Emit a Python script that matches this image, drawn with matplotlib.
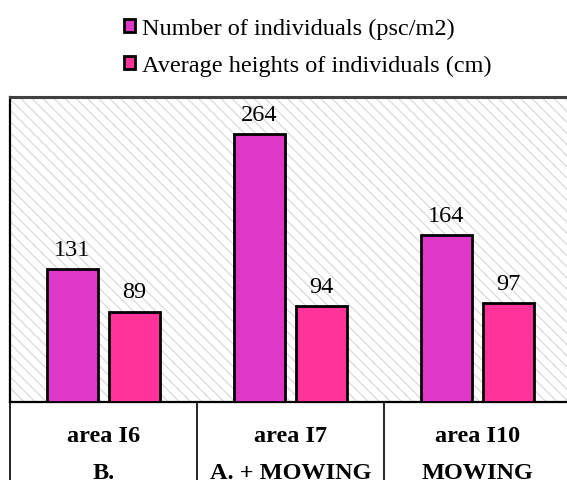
import matplotlib
matplotlib.use("Agg")
import matplotlib.pyplot as plt
from matplotlib.patches import Patch
from matplotlib.lines import Line2D
import numpy as np

plt.rcParams['font.family'] = ['Liberation Serif', 'DejaVu Serif']
plt.rcParams['hatch.linewidth'] = 0.9

areas = ["area I6", "area I7", "area I10"]
treatments = ["B.", "A. + MOWING", "MOWING"]
series_names = ["Number of individuals (psc/m2)", "Average heights of individuals (cm)"]
individuals = [131, 264, 164]
heights = [89, 94, 97]
colors = ["#DE38C8", "#FF3399"]

W, H = 567, 481
fig = plt.figure(figsize=(W / 100, H / 100), dpi=100)

left_px, right_px, top_px, bottom_px = 10, 571, 98, 403
ax = fig.add_axes([left_px / W, 1 - bottom_px / H,
                   (right_px - left_px) / W, (bottom_px - top_px) / H])

# hatched plot background
ax.patch.set_facecolor("white")
ax.patch.set_hatch("\\\\\\")
ax.patch.set_edgecolor("#dadada")

x = np.arange(len(areas))
bw = 0.268
off = 0.166
b1 = ax.bar(x - off, individuals, bw, color=colors[0], edgecolor="black", linewidth=2.0, zorder=3)
b2 = ax.bar(x + off, heights, bw, color=colors[1], edgecolor="black", linewidth=2.0, zorder=3)

for bars, vals in ((b1, individuals), (b2, heights)):
    for rect, v in zip(bars, vals):
        ax.annotate(str(v), (rect.get_x() + rect.get_width() / 2, v),
                    xytext=(0, 6.5), textcoords="offset points",
                    ha="center", va="bottom", fontsize=17.5)

ax.set_xlim(-0.5, 2.5)
ax.set_ylim(0, 300)
ax.set_xticks([])
ax.set_yticks([])
for s in ("left", "bottom"):
    ax.spines[s].set_linewidth(1.6)
    ax.spines[s].set_color("black")
ax.spines["top"].set_linewidth(2.2)
ax.spines["top"].set_color("#404040")
ax.spines["right"].set_visible(False)

# category table under the axis
trans = ax.get_xaxis_transform()
ph = bottom_px - top_px
for xb in [-0.5, 0.5, 1.5]:
    ax.add_line(Line2D([xb, xb], [0, -0.4], transform=trans, color="black",
                       linewidth=1.2, clip_on=False))
for xi, (a, t) in enumerate(zip(areas, treatments)):
    ax.text(xi, -34 / ph, a, transform=trans, ha="center", va="center",
            fontsize=17.5, fontweight="bold")
    ax.text(xi, -71 / ph, t, transform=trans, ha="center", va="center",
            fontsize=17.5, fontweight="bold")

handles = [Patch(facecolor=c, edgecolor="black", linewidth=2.0) for c in colors]
fig.legend(handles, series_names, loc="upper left",
           bbox_to_anchor=(124 / W, 1 - 19 / H), frameon=False, fontsize=17.5,
           handlelength=0.45, handleheight=0.45, handletextpad=0.3,
           labelspacing=0.65, borderaxespad=0, borderpad=0)

fig.savefig("out.png", dpi=100)
